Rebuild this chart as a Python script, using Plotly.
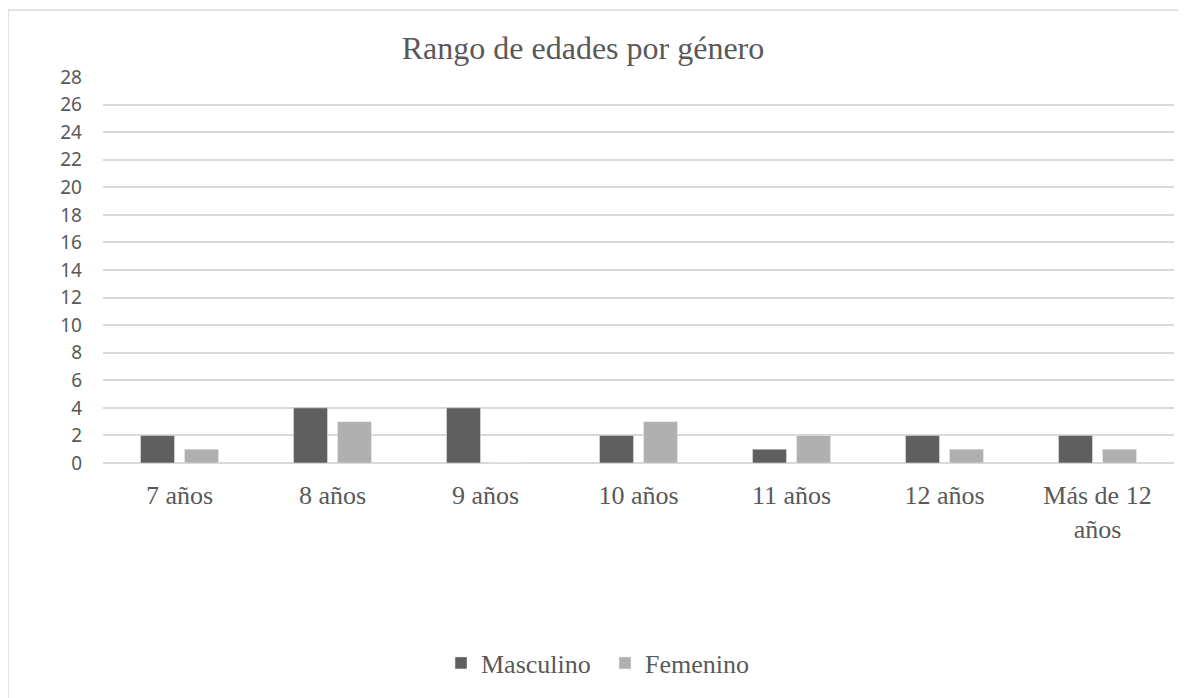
import plotly.graph_objects as go

categories = ["7 años", "8 años", "9 años", "10 años", "11 años", "12 años", "Más de 12<br>años"]
masculino = [2, 4, 4, 2, 1, 2, 2]
femenino = [1, 3, 0, 3, 2, 1, 1]
y_ticks = list(range(0, 29, 2))

OFF = 8  # page body margin
W, H = 1186 - OFF, 698 - OFF
L, R, T, B = 103 - OFF, 1186 - 1174, 77 - OFF, 698 - 463
pw, ph = W - L - R, H - T - B


def px_x(x):
    return (x - OFF - L) / pw


def px_y(y):
    return (T + ph - (y - OFF)) / ph


fig = go.Figure()
fig.add_trace(go.Bar(name="Masculino", x=categories, y=masculino, marker_color="#5f5f5f"))
fig.add_trace(go.Bar(name="Femenino", x=categories, y=femenino, marker_color="#b0b0b0"))

fig.update_layout(
    width=W, height=H,
    margin=dict(l=L, r=R, t=T, b=B),
    paper_bgcolor="white", plot_bgcolor="white",
    barmode="group", bargap=0.425, bargroupgap=0.227,
    title=dict(text="Rango de edades por género", x=px_x(583), xref="paper", xanchor="center",
               y=1 - (48 - OFF) / H, yanchor="middle",
               font=dict(family="Liberation Serif", size=32, color="#595959")),
    xaxis=dict(showgrid=False, showline=False, ticks="", ticklabelstandoff=14,
               tickfont=dict(family="Liberation Serif", size=26, color="#595959")),
    yaxis=dict(range=[0, 28], tickvals=y_ticks, showgrid=True, gridcolor="#d9d9d9", gridwidth=1.5,
               zeroline=True, zerolinecolor="#d9d9d9", zerolinewidth=1.5, showline=False,
               ticks="", ticklabelstandoff=20,
               tickfont=dict(family="Noto Sans", size=19, color="#595959")),
    legend=dict(orientation="h", x=px_x(441), xanchor="left", y=px_y(663),
                yanchor="middle", font=dict(family="Liberation Serif", size=26, color="#595959"),
                itemwidth=30, entrywidth=119, entrywidthmode="pixels"),
    shapes=[dict(type="rect", xref="paper", yref="paper",
                 x0=px_x(8), x1=px_x(1184),
                 y0=px_y(710), y1=px_y(10),
                 line=dict(color="#d9d9d9", width=1.5), fillcolor="rgba(0,0,0,0)", layer="below")],
)

fig.write_html("out.html")
